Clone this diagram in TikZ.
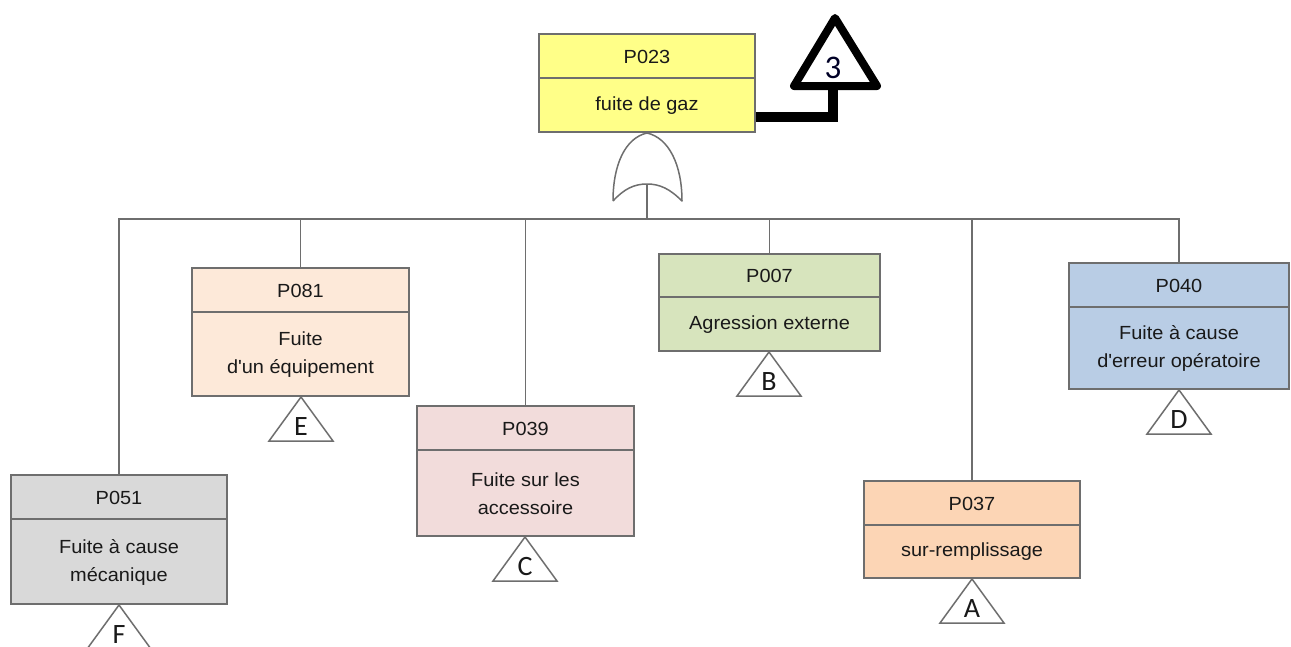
\documentclass[tikz,border=0pt]{standalone}
\usepackage{fontspec}
\setmainfont{Liberation Sans}[FakeStretch=1.05]
\newfontfamily\trifont{Carlito}
\usetikzlibrary{calc}
\definecolor{linegray}{HTML}{6E6E6E}
\definecolor{cyellow}{HTML}{FFFF88}
\definecolor{cpeachlight}{HTML}{FDE9D9}
\definecolor{cpink}{HTML}{F2DCDB}
\definecolor{cgreen}{HTML}{D7E4BD}
\definecolor{cblue}{HTML}{B9CDE5}
\definecolor{cpeach}{HTML}{FCD5B5}
\definecolor{cgray}{HTML}{D9D9D9}
\newcommand{\evbox}[9]{%
  \node[evbox,fill=#7,minimum width={(#4-#2)*1pt},minimum height={(#6-#3)*1pt}] (#1) at ({(#2+#4)/2},{(#3+#6)/2}) {};
  \draw[divline] ($(#1.north west)+(0,#5-#3)$) -- ($(#1.north east)+(0,#5-#3)$);
  \node[idtext] (#1-id) at ({(#2+#4)/2},{(#3+#5)/2}) {#8};
  \node[bodytext] (#1-txt) at ({(#2+#4)/2},{(#5+#6)/2}) {#9};
}
\newcommand{\transfer}[4]{%
  \coordinate (#1-apex) at (#2,#3);
  \draw[tri] (#1-apex) -- ++(-32,44) -- ++(64,0) -- cycle;
  \node[trilabel] (#1) at ($(#1-apex)+(0,38)$) {#4};
}
\begin{document}
\begin{tikzpicture}[x=1pt,y=-1pt,
  evbox/.style={draw=linegray,line width=1.8pt,rectangle,inner sep=0pt},
  divline/.style={draw=linegray,line width=1.8pt},
  idtext/.style={font=\fontsize{19}{22}\selectfont,text=black!90,inner sep=0pt},
  bodytext/.style={font=\fontsize{19}{28}\selectfont,text=black!90,align=center,inner sep=0pt},
  tri/.style={draw=linegray,line width=1.5pt,fill=white,line join=miter},
  trilabel/.style={font=\trifont\fontsize{28}{30}\selectfont,anchor=base,inner sep=0pt,text=black!90},
  conn/.style={draw=linegray,line width=1.5pt},
  thickconn/.style={draw=black,line width=10pt},
]
\useasboundingbox (0,0) rectangle (1291,646);
\fill[white] (0,0) rectangle (1291,646);

% top event
\evbox{p023}{539}{34}{755}{79}{132}{cyellow}{P023}{fuite de gaz}

% transfer triangle 3
\coordinate (t3apex) at (835,18);
\coordinate (t3base) at (833,86);
\draw[black,line width=8pt,line join=round,fill=white] (t3apex) -- (794,86) -- (877,86) -- cycle;
\node[font=\trifont\fontsize{33}{35}\selectfont,anchor=base,inner sep=0pt,text=black!85!blue] (t3) at (833,78) {3};
\draw[thickconn] ([yshift=-34pt]p023.east) -| (t3base);

% OR gate
\coordinate (gtop) at (647,133);
\coordinate (gl) at (613,201);
\coordinate (gr) at (682,201);
\coordinate (gout) at (647,184);
\draw[conn,line join=round] (gl) .. controls (613,165) and (625,138) .. (gtop)
   .. controls (669,138) and (682,165) .. (gr)
   .. controls (670,189) and (660,184) .. (gout)
   .. controls (634,184) and (624,189) .. (gl);
\coordinate (bus) at (647,219);
\draw[conn] (gout) -- (bus);

% children
\evbox{p081}{192}{268}{409}{313}{396}{cpeachlight}{P081}{Fuite\\d\textquotesingle un équipement}
\evbox{p039}{417}{406}{634}{451}{536}{cpink}{P039}{Fuite sur les\\accessoire}
\evbox{p007}{659}{254}{880}{298}{351}{cgreen}{P007}{Agression externe}
\evbox{p040}{1069}{263}{1289}{308}{389}{cblue}{P040}{Fuite à cause\\d\textquotesingle erreur opératoire}
\evbox{p037}{864}{481}{1080}{526}{578}{cpeach}{P037}{sur-remplissage}
\evbox{p051}{11}{475}{227}{520}{604}{cgray}{P051}{Fuite à cause\\mécanique}

% bus and drops
\draw[conn] (p051.north) -- (p051.north |- bus) -- (p040.north |- bus) -- (p040.north);
\draw[conn] (p081.north) -- (p081.north |- bus);
\draw[conn] (p039.north) -- (p039.north |- bus);
\draw[conn] (p007.north) -- (p007.north |- bus);
\draw[conn] (p037.north) -- (p037.north |- bus);

% transfer triangles
\transfer{trE}{301}{397}{E}
\transfer{trC}{525}{537}{C}
\transfer{trB}{769}{352}{B}
\transfer{trD}{1179}{390}{D}
\transfer{trA}{972}{579}{A}
\transfer{trF}{119}{605}{F}
\end{tikzpicture}
\end{document}
